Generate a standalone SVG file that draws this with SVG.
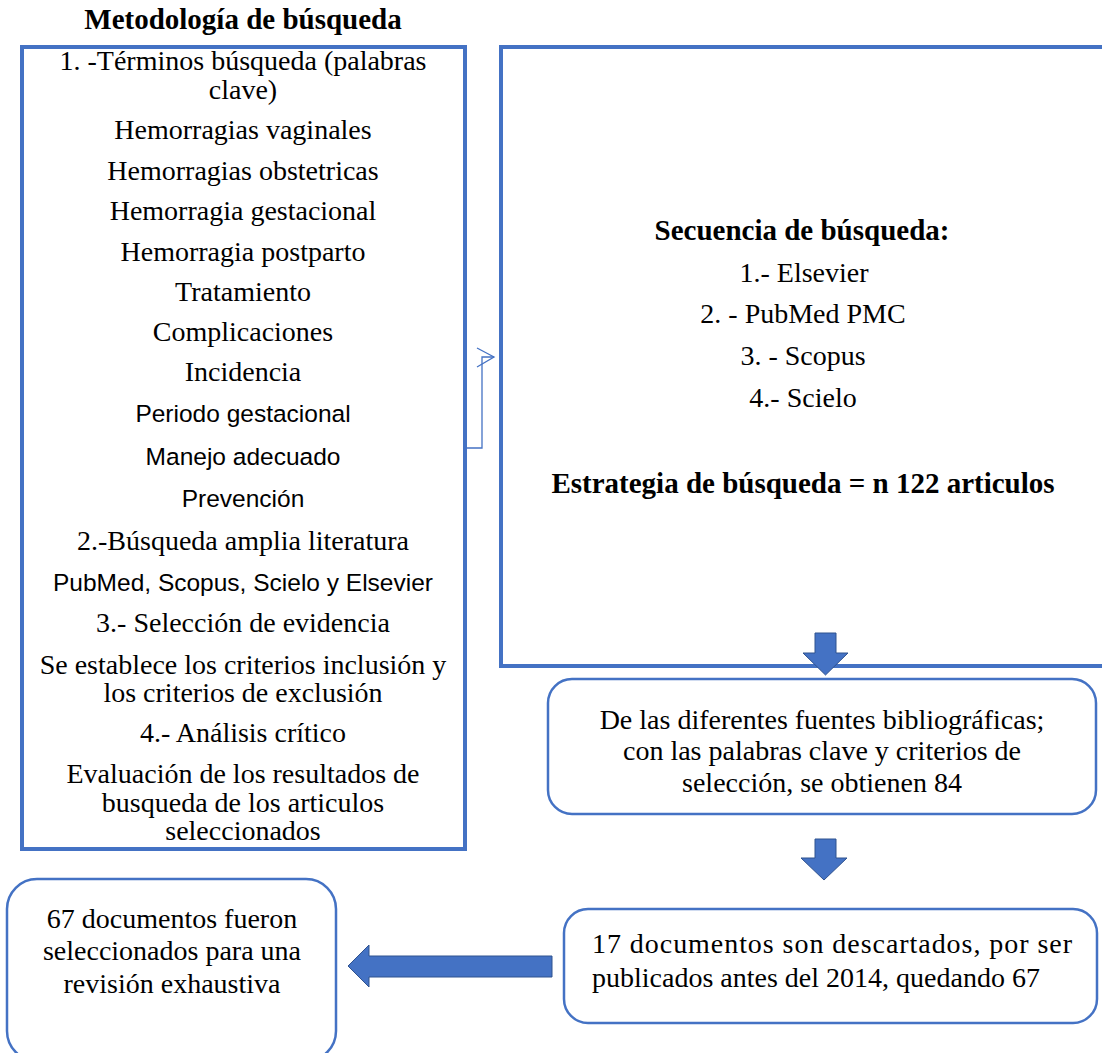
<svg xmlns="http://www.w3.org/2000/svg" width="1102" height="1053" viewBox="0 0 1102 1053">
<style>
.bg{fill:#ffffff}
.box{fill:#ffffff;stroke:#4472C4;stroke-width:4}
.rbox{fill:#ffffff;stroke:#4472C4;stroke-width:2.5}
.t{font-family:"Liberation Serif","Times New Roman",serif;font-size:28px;fill:#000}
.b{font-family:"Liberation Serif","Times New Roman",serif;font-size:29px;font-weight:bold;fill:#000}
.s{font-family:"Liberation Sans",Arial,sans-serif;font-size:24.5px;fill:#000}
.mid{text-anchor:middle}
.blk{fill:#4472C4;stroke:#2F528F;stroke-width:1}
.thin{fill:none;stroke:#4472C4;stroke-width:1.3}
</style>
<rect class="bg" x="0" y="0" width="1102" height="1053"/>
<g id="title">
<text class="b mid" x="243" y="29">Metodología de búsqueda</text>
</g>
<g id="metodologia">
<rect class="box" x="22" y="47" width="443" height="802"/>
<text class="t mid" x="243" y="70">1. -Términos búsqueda (palabras</text>
<text class="t mid" x="243" y="99">clave)</text>
<text class="t mid" x="243" y="139">Hemorragias vaginales</text>
<text class="t mid" x="243" y="180">Hemorragias obstetricas</text>
<text class="t mid" x="243" y="220">Hemorragia gestacional</text>
<text class="t mid" x="243" y="261">Hemorragia postparto</text>
<text class="t mid" x="243" y="301">Tratamiento</text>
<text class="t mid" x="243" y="341">Complicaciones</text>
<text class="t mid" x="243" y="381">Incidencia</text>
<text class="s mid" x="243" y="422">Periodo gestacional</text>
<text class="s mid" x="243" y="465">Manejo adecuado</text>
<text class="s mid" x="243" y="507">Prevención</text>
<text class="t mid" x="243" y="550">2.-Búsqueda amplia literatura</text>
<text class="s mid" x="243" y="591">PubMed, Scopus, Scielo y Elsevier</text>
<text class="t mid" x="243" y="632">3.- Selección de evidencia</text>
<text class="t mid" x="243" y="674">Se establece los criterios inclusión y</text>
<text class="t mid" x="243" y="702">los criterios de exclusión</text>
<text class="t mid" x="243" y="742">4.- Análisis crítico</text>
<text class="t mid" x="243" y="783">Evaluación de los resultados de</text>
<text class="t mid" x="243" y="812">busqueda de los articulos</text>
<text class="t mid" x="243" y="840">seleccionados</text>
</g>
<g id="secuencia">
<rect class="box" x="501" y="47" width="620" height="619"/>
<text class="b mid" x="802" y="240">Secuencia de búsqueda:</text>
<text class="t mid" x="804" y="282">1.- Elsevier</text>
<text class="t mid" x="803" y="323">2. - PubMed PMC</text>
<text class="t mid" x="803" y="365">3. - Scopus</text>
<text class="t mid" x="803" y="407">4.- Scielo</text>
<text class="b mid" x="803" y="493">Estrategia de búsqueda = n 122 articulos</text>
</g>
<g id="fuentes">
<rect class="rbox" x="548" y="679" width="548" height="135" rx="24" ry="24"/>
<text class="t mid" x="822" y="729">De las diferentes fuentes bibliográficas;</text>
<text class="t mid" x="822" y="760">con las palabras clave y criterios de</text>
<text class="t mid" x="822" y="792">selección, se obtienen 84</text>
</g>
<g id="descartados">
<rect class="rbox" x="564" y="909" width="533" height="114" rx="24" ry="24"/>
<text class="t" x="592" y="953" textLength="480" lengthAdjust="spacing">17 documentos son descartados, por ser</text>
<text class="t" x="592" y="987">publicados antes del 2014, quedando 67</text>
</g>
<g id="seleccionados">
<rect class="rbox" x="7" y="879" width="329" height="182" rx="30" ry="30"/>
<text class="t mid" x="172" y="928">67 documentos fueron</text>
<text class="t mid" x="172" y="960">seleccionados para una</text>
<text class="t mid" x="172" y="993">revisión exhaustiva</text>
</g>
<g id="connectors">
<polyline class="thin" points="465,448 482,448 482,357 494,357"/>
<polyline class="thin" points="477,348 494,357 477,367"/>
<polygon class="blk" points="815,633 836,633 836,653 848,653 825.5,675 803,653 815,653"/>
<polygon class="blk" points="815,839 836,839 836,858 847,858 824,880 801,858 815,858"/>
<polygon class="blk" points="552,956 552,977 369,977 369,987 348,966 369,945 369,956"/>
</g>
</svg>
